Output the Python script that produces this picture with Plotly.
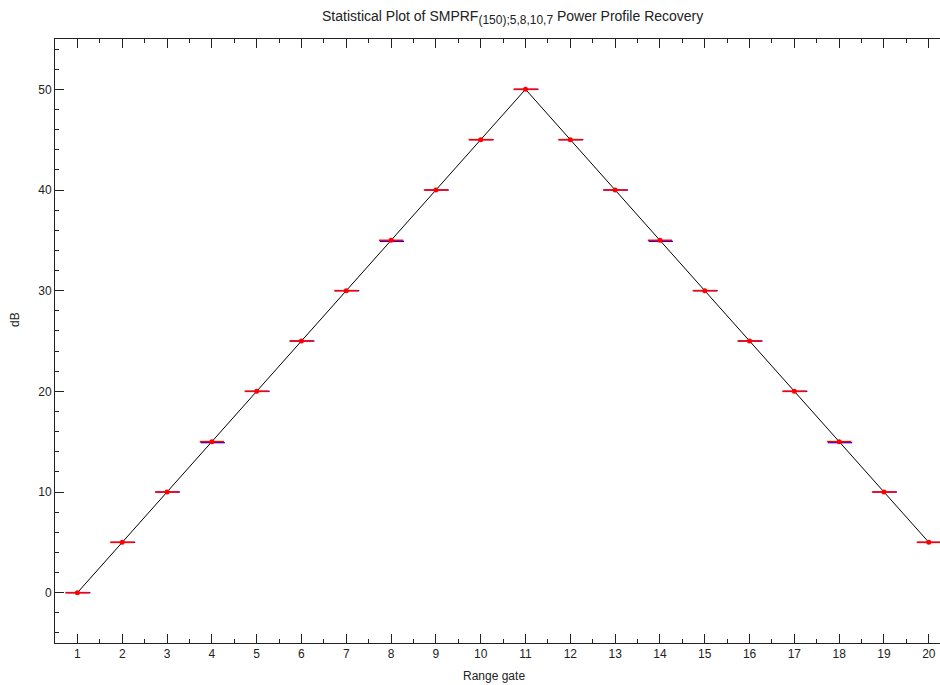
import plotly.graph_objects as go

# Range gates and recovered power profile (dB)
gates = list(range(1, 21))
power_db = [0, 5, 10, 15, 20, 25, 30, 35, 40, 45, 50,
            45, 40, 35, 30, 25, 20, 15, 10, 5]
# lower box level per gate (dB)
box_db = [0, 5, 10, 14.9, 20, 25, 30, 34.9, 40, 45, 50,
          45, 40, 34.9, 30, 25, 20, 14.9, 10, 5]

half_w = 0.27


def segments(xs, ys, w, dx=0.0):
    sx, sy = [], []
    for x, y in zip(xs, ys):
        sx += [x - w + dx, x + w + dx, None]
        sy += [y, y, None]
    return sx, sy


fig = go.Figure()

bx, by = segments(gates, box_db, half_w, dx=0.02)
fig.add_trace(go.Scatter(x=bx, y=by, mode="lines",
                         line=dict(color="#0000ff", width=1.3),
                         hoverinfo="skip", showlegend=False))

fig.add_trace(go.Scatter(x=gates, y=power_db, mode="lines",
                         line=dict(color="#000000", width=1),
                         showlegend=False))

rx, ry = segments(gates, power_db, half_w)
fig.add_trace(go.Scatter(x=rx, y=ry, mode="lines",
                         line=dict(color="#ff0000", width=1.6),
                         hoverinfo="skip", showlegend=False))

fig.add_trace(go.Scatter(x=gates, y=power_db, mode="markers",
                         marker=dict(color="#ff0000", size=5),
                         showlegend=False))

axis_common = dict(
    showgrid=False, zeroline=False, showline=True,
    linecolor="#222222", linewidth=1,
    ticks="inside", ticklen=9, tickwidth=1, tickcolor="#222222",
    tickfont=dict(family="Liberation Sans, Arial, sans-serif",
                  size=12, color="#222222"),
)

fig.update_xaxes(
    range=[0.5, 20.25], tickmode="array", tickvals=gates,
    ticktext=[str(g) for g in gates], mirror="ticks",
    minor=dict(ticks="inside", ticklen=4, tickcolor="#222222",
               dtick=0.5, tick0=0.5),
    **axis_common,
)
fig.update_yaxes(
    range=[-5, 55], tickmode="array", tickvals=[0, 10, 20, 30, 40, 50],
    mirror=True,
    minor=dict(ticks="inside", ticklen=4, tickcolor="#222222",
               dtick=2, tick0=0),
    **axis_common,
)

font = dict(family="Liberation Sans, Arial, sans-serif", size=12,
            color="#222222")
title_font = dict(family="Liberation Sans, Arial, sans-serif", size=14,
                  color="#222222")

fig.update_layout(
    width=940, height=685,
    margin=dict(l=55, r=0, t=39, b=42),
    plot_bgcolor="white", paper_bgcolor="white",
    font=font,
    annotations=[
        dict(text="Statistical Plot of SMPRF<sub>"
                  "<span style='font-size:12px'>(150);5,8,10,7</span>"
                  "</sub> Power Profile Recovery",
             xref="paper", yref="paper",
             x=(512 - 55) / 885, y=1, yshift=10,
             xanchor="center", yanchor="bottom", showarrow=False,
             font=title_font),
        dict(text="Range gate", xref="paper", yref="paper",
             x=(494 - 55) / 885, y=0, yshift=-24,
             xanchor="center", yanchor="top", showarrow=False, font=font),
        dict(text="dB", xref="paper", yref="paper",
             x=0, xshift=-40, y=(643 - 320) / 604,
             xanchor="center", yanchor="middle", textangle=-90,
             showarrow=False, font=font),
    ],
)

fig.write_html("out.html")
